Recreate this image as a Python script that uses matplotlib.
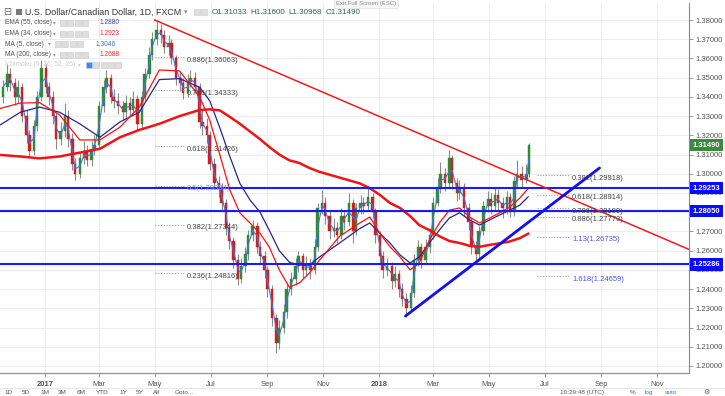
import matplotlib
matplotlib.use('Agg')
import matplotlib.pyplot as plt
import matplotlib.dates as mdates
from matplotlib.patches import Rectangle
from matplotlib.lines import Line2D
import pandas as pd

plt.rcParams['font.family'] = ['Liberation Sans', 'DejaVu Sans']

# ---------------- data ----------------
first_open = 1.340
candle_end = '2018-06-14'
closes = [
    1.345, 1.352, 1.347, 1.340, 1.345, 1.330, 1.320, 1.312, 1.325, 1.340,
    1.355, 1.345, 1.340, 1.330, 1.318, 1.322, 1.330, 1.318, 1.305, 1.300,
    1.308, 1.312, 1.307, 1.313, 1.315, 1.335, 1.345, 1.350, 1.340, 1.338,
    1.335, 1.332, 1.337, 1.333, 1.339, 1.326, 1.340, 1.352, 1.362, 1.370,
    1.375, 1.372, 1.366, 1.368, 1.360, 1.350, 1.347, 1.342, 1.348, 1.350,
    1.345, 1.327, 1.325, 1.320, 1.305, 1.295, 1.292, 1.285, 1.272, 1.265,
    1.255, 1.245, 1.252, 1.258, 1.268, 1.273, 1.262, 1.257, 1.250, 1.240,
    1.225, 1.212, 1.220, 1.228, 1.240, 1.245, 1.252, 1.257, 1.250, 1.253,
    1.250, 1.262, 1.282, 1.285, 1.278, 1.270, 1.272, 1.268, 1.278, 1.275,
    1.285, 1.270, 1.282, 1.285, 1.283, 1.288, 1.280, 1.268, 1.257, 1.250,
    1.252, 1.244, 1.248, 1.240, 1.235, 1.230, 1.238, 1.255, 1.262, 1.255,
    1.262, 1.268, 1.285, 1.293, 1.300, 1.295, 1.308, 1.295, 1.290, 1.293,
    1.282, 1.275, 1.262, 1.258, 1.270, 1.283, 1.287, 1.283, 1.289, 1.285,
    1.282, 1.288, 1.280, 1.296, 1.300, 1.297, 1.300, 1.3149]
highs = [
    1.349, 1.357, 1.355, 1.350, 1.349, 1.347, 1.333, 1.323, 1.328, 1.343,
    1.359, 1.357, 1.348, 1.343, 1.332, 1.327, 1.337, 1.333, 1.321, 1.308,
    1.311, 1.317, 1.315, 1.317, 1.320, 1.338, 1.349, 1.354, 1.352, 1.344,
    1.342, 1.338, 1.341, 1.340, 1.343, 1.341, 1.343, 1.355, 1.366, 1.374,
    1.380, 1.378, 1.375, 1.372, 1.370, 1.362, 1.353, 1.350, 1.352, 1.354,
    1.353, 1.347, 1.333, 1.329, 1.322, 1.308, 1.299, 1.295, 1.287, 1.275,
    1.267, 1.258, 1.256, 1.262, 1.271, 1.276, 1.275, 1.265, 1.260, 1.252,
    1.242, 1.227, 1.224, 1.232, 1.243, 1.249, 1.256, 1.260, 1.259, 1.257,
    1.256, 1.266, 1.285, 1.2916, 1.288, 1.281, 1.277, 1.275, 1.282, 1.281,
    1.290, 1.287, 1.285, 1.289, 1.288, 1.2925, 1.290, 1.282, 1.270, 1.260,
    1.256, 1.254, 1.252, 1.250, 1.243, 1.238, 1.242, 1.258, 1.2655, 1.264,
    1.266, 1.272, 1.288, 1.298, 1.306, 1.303, 1.3125, 1.310, 1.298, 1.297,
    1.295, 1.285, 1.277, 1.265, 1.273, 1.286, 1.291, 1.290, 1.293, 1.292,
    1.288, 1.291, 1.290, 1.299, 1.307, 1.304, 1.305, 1.316]
lows = [
    1.337, 1.343, 1.343, 1.336, 1.337, 1.327, 1.316, 1.309, 1.310, 1.322,
    1.338, 1.342, 1.336, 1.326, 1.313, 1.315, 1.319, 1.314, 1.302, 1.297,
    1.298, 1.305, 1.304, 1.304, 1.310, 1.313, 1.332, 1.342, 1.337, 1.334,
    1.331, 1.328, 1.329, 1.330, 1.331, 1.323, 1.324, 1.338, 1.350, 1.359,
    1.367, 1.368, 1.363, 1.362, 1.357, 1.346, 1.343, 1.339, 1.340, 1.345,
    1.342, 1.324, 1.320, 1.316, 1.302, 1.292, 1.288, 1.281, 1.268, 1.261,
    1.251, 1.242, 1.243, 1.249, 1.255, 1.265, 1.259, 1.253, 1.246, 1.236,
    1.221, 1.207, 1.209, 1.217, 1.225, 1.237, 1.242, 1.249, 1.246, 1.247,
    1.245, 1.248, 1.260, 1.279, 1.274, 1.266, 1.267, 1.264, 1.266, 1.271,
    1.273, 1.264, 1.268, 1.279, 1.279, 1.281, 1.277, 1.264, 1.253, 1.246,
    1.247, 1.240, 1.241, 1.236, 1.231, 1.2255, 1.228, 1.236, 1.252, 1.251,
    1.253, 1.259, 1.266, 1.283, 1.290, 1.291, 1.293, 1.292, 1.286, 1.287,
    1.278, 1.271, 1.258, 1.2535, 1.256, 1.268, 1.280, 1.279, 1.281, 1.281,
    1.277, 1.279, 1.2775, 1.278, 1.293, 1.293, 1.295, 1.2985]

ma_dates = ['2016-11-13', '2016-12-05', '2016-12-26', '2017-01-17', '2017-02-08', '2017-03-02',
            '2017-03-24', '2017-04-14', '2017-05-06', '2017-05-28', '2017-06-19', '2017-06-30',
            '2017-07-11', '2017-07-22', '2017-08-02', '2017-08-13', '2017-08-24', '2017-09-03',
            '2017-09-14', '2017-09-25', '2017-10-06', '2017-10-17', '2017-10-28', '2017-11-19',
            '2017-12-11', '2017-12-22', '2018-01-02', '2018-01-13', '2018-01-24', '2018-02-04',
            '2018-02-14', '2018-02-25', '2018-03-08', '2018-03-19', '2018-03-30', '2018-04-10',
            '2018-04-21', '2018-05-02', '2018-05-13', '2018-05-24', '2018-06-04', '2018-06-13']
ma200 = [1.3098, 1.309, 1.308, 1.309, 1.311, 1.313, 1.319, 1.3228, 1.326, 1.330,
         1.3332, 1.3335, 1.333, 1.3296, 1.326, 1.322, 1.318, 1.314, 1.310, 1.307,
         1.3056, 1.303, 1.301, 1.298, 1.295, 1.2925, 1.289, 1.2848, 1.2822, 1.278,
         1.2733, 1.2707, 1.2675, 1.265, 1.264, 1.2625, 1.262, 1.263, 1.2638, 1.2648,
         1.2665, 1.2688]
ema34 = [1.334, 1.3368, 1.337, 1.3306, 1.3176, 1.3176, 1.3243, 1.3347, 1.354, 1.3535,
         1.340, 1.328, 1.310, 1.2916, 1.2796, 1.2744, 1.269, 1.262, 1.250, 1.241,
         1.2432, 1.2484, 1.255, 1.2675, 1.2744, 1.2775, 1.269, 1.262, 1.2567, 1.250,
         1.2536, 1.2655, 1.2744, 1.2811, 1.2822, 1.2775, 1.2744, 1.277, 1.2797, 1.2827,
         1.2874, 1.2923]
ema55 = [1.3254, 1.332, 1.3347, 1.332, 1.326, 1.319, 1.327, 1.332, 1.349, 1.3495,
         1.345, 1.338, 1.324, 1.309, 1.295, 1.2864, 1.280, 1.2707, 1.260, 1.254,
         1.2525, 1.2525, 1.2567, 1.264, 1.2715, 1.2744, 1.269, 1.264, 1.2578, 1.2536,
         1.2567, 1.264, 1.2707, 1.277, 1.2797, 1.276, 1.2733, 1.276, 1.2786, 1.2811,
         1.2837, 1.288]

support_levels = [1.29253, 1.28050, 1.25286]
last_price = 1.31490

fib_left_levels = [1.36063, 1.34333, 1.31426, 1.29384, 1.27344, 1.24816]
fib_left_labels = ['0.886(1.36063)', '0.786(1.34333)', '0.618(1.31426)',
                   '0.5(1.29384)', '0.382(1.27344)', '0.236(1.24816)']
fib_left_colors = ['#444444', '#444444', '#444444', '#7d95ff', '#444444', '#444444']
fib_right_levels = [1.29918, 1.28914, 1.28199, 1.27773, 1.26735, 1.24659]
fib_right_labels = ['0.382(1.29918)', '0.618(1.28914)', '0.786(1.28199)',
                    '0.886(1.27773)', '1.13(1.26735)', '1.618(1.24659)']
fib_right_colors = ['#444444', '#444444', '#444444', '#444444', '#4a55e8', '#4a55e8']

red_trend_dates = ['2017-05-01', '2018-12-05']
red_trend_prices = [1.3800, 1.2608]
blue_trend_dates = ['2018-01-30', '2018-08-30']
blue_trend_prices = [1.2260, 1.3030]

y_ticks = [1.20, 1.21, 1.22, 1.23, 1.24, 1.25, 1.26, 1.27, 1.28, 1.29,
           1.30, 1.31, 1.32, 1.33, 1.34, 1.35, 1.36, 1.37, 1.38]
x_tick_dates = ['2017-01-01', '2017-03-01', '2017-05-01', '2017-07-01', '2017-09-01', '2017-11-01',
                '2018-01-01', '2018-03-01', '2018-05-01', '2018-07-01', '2018-09-01', '2018-11-01']
x_tick_labels = ['2017', 'Mar', 'May', 'Jul', 'Sep', 'Nov', '2018', 'Mar', 'May', 'Jul', 'Sep', 'Nov']

# ---------------- figure ----------------
W, H = 725, 396
fig = plt.figure(figsize=(W / 100, H / 100), dpi=100)
fig.patch.set_facecolor('white')
ax = fig.add_axes([0, 23 / H, 689 / W, (373 - 3) / H])

d2n = lambda s: mdates.date2num(pd.Timestamp(s))
base = d2n('2017-01-01')
ax.set_xlim(base - 45 / 0.915, base + 644 / 0.915)
ax.set_ylim(1.19634, 1.38885)

# candles
dates = pd.bdate_range(end=candle_end, periods=len(closes), freq='3B')
xs = mdates.date2num(dates)
opens = [first_open] + closes[:-1]
up_c, dn_c = '#2f8a35', '#d0201e'
cols = [up_c if c >= o else dn_c for o, c in zip(opens, closes)]
ax.vlines(xs, lows, highs, colors='#8a8a8a', lw=0.8, zorder=2)
bottoms = [min(o, c) for o, c in zip(opens, closes)]
heights = [max(abs(c - o), 0.0005) for o, c in zip(opens, closes)]
ax.bar(xs, heights, bottom=bottoms, width=2.7, color=cols, edgecolor=cols, lw=0.3, zorder=2.5)

# moving averages
mxs = [d2n(d) for d in ma_dates]
ma5 = pd.Series(closes).rolling(2, min_periods=1).mean()
ax.plot(xs, ma5, color='#4a72d6', lw=0.8, zorder=3)
ax.plot(mxs, ema55, color='#26268f', lw=0.9, zorder=3)
ax.plot(mxs, ema34, color='#ff1010', lw=0.9, zorder=3)
ax.plot(mxs, ma200, color='#f01414', lw=1.8, zorder=3)

# horizontal supports
for lv in support_levels:
    ax.axhline(lv, color='#1a1aff', lw=1.5, zorder=4)

# trend lines
ax.plot([d2n(d) for d in red_trend_dates], red_trend_prices, color='#f21b1b', lw=1.1, zorder=4)
ax.plot([d2n(d) for d in blue_trend_dates], blue_trend_prices, color='#1010f0', lw=2.0, zorder=4,
        solid_capstyle='round')

# fib levels
for lv, lb, c in zip(fib_left_levels, fib_left_labels, fib_left_colors):
    ax.hlines(lv, d2n('2017-05-01'), d2n('2017-06-03'), colors='#a0a0a0', lw=0.8,
              linestyles=(0, (1, 1.5)), zorder=3)
    ax.annotate(lb, (d2n('2017-06-05'), lv), xytext=(0, -2.2), textcoords='offset points',
                va='center', ha='left', fontsize=5.5, color=c, zorder=5)
for lv, lb, c in zip(fib_right_levels, fib_right_labels, fib_right_colors):
    ax.hlines(lv, d2n('2018-06-23'), d2n('2018-07-29'), colors='#a0a0a0', lw=0.8,
              linestyles=(0, (1, 1.5)), zorder=3)
    ax.annotate(lb, (d2n('2018-07-31'), lv), xytext=(0, -2.2), textcoords='offset points',
                va='center', ha='left', fontsize=5.5, color=c, zorder=5)

# axes styling
ax.grid(True, color='#ededed', lw=0.7, zorder=0)
ax.set_axisbelow(True)
ax.yaxis.tick_right()
ax.set_yticks(y_ticks)
# the 1.28000 label is fully covered by the 1.28050 price box in the reference
ax.set_yticklabels(['' if abs(v - 1.28) < 1e-9 else f'{v:.5f}' for v in y_ticks])
ax.set_xticks([d2n(d) for d in x_tick_dates])
ax.set_xticklabels(x_tick_labels)
for t, lb in zip(ax.get_xticklabels(), x_tick_labels):
    if lb.isdigit():
        t.set_fontweight('bold')
        t.set_color('#333333')
ax.tick_params(axis='y', labelsize=5.5, colors='#8a8a8a', labelcolor='#555555', length=3, pad=2, width=0.6)
ax.tick_params(axis='x', labelsize=5.5, colors='#8a8a8a', labelcolor='#555555', length=3, pad=2.5, width=0.6)
for s in ['top', 'left']:
    ax.spines[s].set_visible(False)
ax.spines['right'].set_color('#8a8a8a')
ax.spines['bottom'].set_color('#9a9a9a')
ax.spines['bottom'].set_linewidth(1.0)

# price boxes on the right axis
boxes = [(last_price, '#3b8a3b')] + [(lv, '#0a0aff') for lv in support_levels]
for p, c in boxes:
    ax.annotate(f'{p:.5f}', (1.0, p), xycoords=ax.get_yaxis_transform(), xytext=(2.6, 0),
                textcoords='offset points', ha='left', va='center', fontsize=5.5,
                color='white', fontweight='bold', annotation_clip=False, zorder=10,
                bbox=dict(boxstyle='square,pad=0.35', fc=c, ec='none'))

# ---------------- header / legend ----------------
def fx(x):
    return x / W

def fy(y):
    return 1 - y / H

def icon_boxes(x0, y, n, first=None):
    for k in range(n):
        fc = first if (first and k == 0) else '#dedede'
        fig.patches.append(Rectangle((fx(x0 + k * 7.3), fy(y + 3)), 6 / W, 6 / H,
                                     transform=fig.transFigure, fc=fc, ec='#c9c9c9', lw=0.4, zorder=20))

fig.text(fx(3), fy(12), '\u229f', fontsize=7, color='#666666', va='center', ha='left',
         family='DejaVu Sans', zorder=21)
fig.patches.append(Rectangle((fx(15.5), fy(15)), 6 / W, 6 / H, transform=fig.transFigure,
                             fc='#777777', ec='none', zorder=20))
fig.text(fx(25), fy(12), 'U.S. Dollar/Canadian Dollar, 1D, FXCM', fontsize=6.4, color='#333333',
         va='center', ha='left', zorder=21)
fig.text(fx(184), fy(12), '\u25be', fontsize=5, color='#888888', va='center', ha='left',
         family='DejaVu Sans', zorder=21)
icon_boxes(194, 12, 2)
for xx, s in zip([212, 250, 288, 326], ['O1.31033', 'H1.31600', 'L1.30968', 'C1.31490']):
    fig.text(fx(xx), fy(12), s, fontsize=5.8, color='#33605a', va='center', ha='left', zorder=21)
fig.text(fx(336), fy(3.5), 'Exit Full Screen (ESC)', fontsize=4.3, color='#8a8a8a', va='center',
         ha='left', zorder=21, bbox=dict(boxstyle='square,pad=0.3', fc='#f6f6f6', ec='#dddddd', lw=0.4))

legend_rows = [
    ('EMA (55, close)', 23, 60, 4, '1.2880', '#4545b5', 100),
    ('EMA (34, close)', 33.5, 60, 4, '1.2923', '#ff2a2a', 100),
    ('MA (5, close)', 44, 55, 4, '1.3046', '#4a72d6', 96),
    ('MA (200, close)', 54.5, 60, 4, '1.2688', '#ff2a2a', 100),
]
for name, yy, bx, nb, val, vc, vx in legend_rows:
    fig.text(fx(5), fy(yy), name, fontsize=4.8, color='#555555', va='center', ha='left', zorder=21)
    fig.text(fx(bx - 7), fy(yy), '\u25be', fontsize=4, color='#999999', va='center', ha='left',
             family='DejaVu Sans', zorder=21)
    icon_boxes(bx, yy, nb)
    fig.text(fx(vx), fy(yy), val, fontsize=4.8, color=vc, va='center', ha='left', zorder=21)
fig.text(fx(5), fy(65), 'Ichimoku (9, 26, 52, 26)', fontsize=4.8, color='#cccccc', va='center',
         ha='left', zorder=21)
fig.text(fx(78), fy(65), '\u25be', fontsize=4, color='#cccccc', va='center', ha='left',
         family='DejaVu Sans', zorder=21)
icon_boxes(86, 65, 5, first='#3d8ee8')

# ---------------- bottom toolbar ----------------
fig.add_artist(Line2D([0, 1], [fy(388), fy(388)], transform=fig.transFigure, color='#e2e2e2', lw=0.6))
ty = 392.3
tb = ['1D', '5D', '1M', '3M', '6M', 'YTD', '1Y', '5Y', 'All']
tx = [4, 22, 40, 58, 77, 96, 119, 136, 153]
for s, xx in zip(tb, tx):
    fig.text(fx(xx), fy(ty), s, fontsize=4.6, color='#555555', va='center', ha='left')
fig.text(fx(175), fy(ty), 'Goto...', fontsize=4.6, color='#555555', va='center', ha='left')
fig.text(fx(560), fy(ty), '10:29:48 (UTC)', fontsize=4.6, color='#555555', va='center', ha='left')
fig.text(fx(630), fy(ty), '%', fontsize=4.6, color='#555555', va='center', ha='left')
fig.text(fx(645), fy(ty), 'log', fontsize=4.6, color='#3d7fd8', va='center', ha='left')
fig.text(fx(665), fy(ty), 'auto', fontsize=4.6, color='#3d7fd8', va='center', ha='left')
fig.text(fx(703), fy(ty), '\u2699', fontsize=5, color='#555555', va='center', ha='left',
         family='DejaVu Sans')

fig.savefig('out.png', dpi=100, facecolor='white')
